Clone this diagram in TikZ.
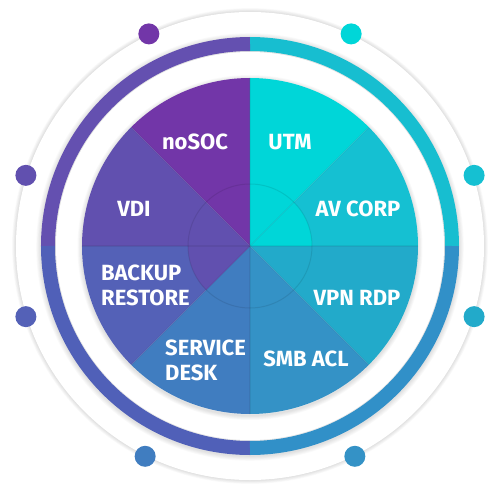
\documentclass[tikz,border=0pt]{standalone}
\usepackage{fontspec}
\setmainfont{Fira Sans}
\definecolor{cNoSOC}{HTML}{7236A8}
\definecolor{cVDI}{HTML}{6150AF}
\definecolor{cBR}{HTML}{5461B7}
\definecolor{cSD}{HTML}{407DC0}
\definecolor{cSMB}{HTML}{3492C6}
\definecolor{cVPN}{HTML}{22AACA}
\definecolor{cAV}{HTML}{15C0D2}
\definecolor{cUTM}{HTML}{00D6D8}
\definecolor{bTL}{HTML}{6450B0}
\definecolor{bTR}{HTML}{17BED0}
\definecolor{bBL}{HTML}{5060B8}
\definecolor{bBR}{HTML}{3190C8}
\begin{document}
\begin{tikzpicture}[x=1pt,y=1pt,
  lbl/.style={text=white,font=\fontsize{22}{25}\selectfont\bfseries,inner sep=0pt},
  dotnode/.style={circle,inner sep=0pt,minimum size=21pt},
  softring/.style={black,opacity=0.02}]
\useasboundingbox[fill=white] (-250,-255) rectangle (251,246);
% outer white ring with soft shadow
\foreach \k in {1,...,6} \draw[softring,line width=\k*1.3pt] (0,0) circle (234);
\fill[white] (0,0) circle (234);
% band shadow
\foreach \k in {1,...,6} \draw[softring,line width=14pt+\k*1.6pt] (0,-1) circle (202);
\fill[white] (0,0) circle (194);
% band quadrants
\draw[bTR,line width=14pt] (0:202) arc[start angle=0,end angle=90,radius=202];
\draw[bTL,line width=14pt] (90:202) arc[start angle=90,end angle=180,radius=202];
\draw[bBL,line width=14pt] (180:202) arc[start angle=180,end angle=270,radius=202];
\draw[bBR,line width=14pt] (270:202) arc[start angle=270,end angle=360,radius=202];
% disc shadow
\foreach \k in {1,...,6} \draw[softring,line width=\k*1.5pt] (0,-1.5) circle (168);
% sectors
\foreach \a/\c in {90/cNoSOC,45/cUTM,0/cAV,-45/cVPN,-90/cSMB,-135/cSD,180/cBR,135/cVDI}
  \fill[\c] (0,0) -- (\a:168) arc[start angle=\a,end angle=\a+45,radius=168] -- cycle;
% inner circle
\fill[cUTM] (0,0) -- (0:62) arc[start angle=0,end angle=45,radius=62] -- cycle;
\fill[cVDI] (0,0) -- (180:62) arc[start angle=180,end angle=225,radius=62] -- cycle;
\foreach \a in {0,45,...,315} \draw[black,opacity=0.06,line width=1.2pt] (0,0) -- (\a:168);
\draw[black,opacity=0.09,line width=1pt] (0,0) circle (62);
% dots
\node[dotnode,fill=cNoSOC] (d1) at (115.5:235) {};
\node[dotnode,fill=cUTM]   (d2) at (64.5:235) {};
\node[dotnode,fill=cVDI]   (d3) at (162.5:235) {};
\node[dotnode,fill=cAV]    (d4) at (17.5:235) {};
\node[dotnode,fill=cBR]    (d5) at (197.5:235) {};
\node[dotnode,fill=cVPN]   (d6) at (342.5:235) {};
\node[dotnode,fill=cSD]    (d7) at (243.5:235) {};
\node[dotnode,fill=cSMB]   (d8) at (296.5:235) {};
% labels
\node[lbl] (nosoc) at (-55,104) {noSOC};
\node[lbl] (utm) at (40,104) {UTM};
\node[lbl] (vdi) at (-116,37) {VDI};
\node[lbl] (av) at (108,37) {AV CORP};
\node[lbl,align=left,anchor=west] (br) at (-149,-39.5) {BACKUP\\RESTORE};
\node[lbl,align=left,anchor=west] (sd) at (-85,-114.5) {SERVICE\\DESK};
\node[lbl] (vpn) at (107,-52) {VPN RDP};
\node[lbl] (smb) at (56,-113) {SMB ACL};
\end{tikzpicture}
\end{document}
